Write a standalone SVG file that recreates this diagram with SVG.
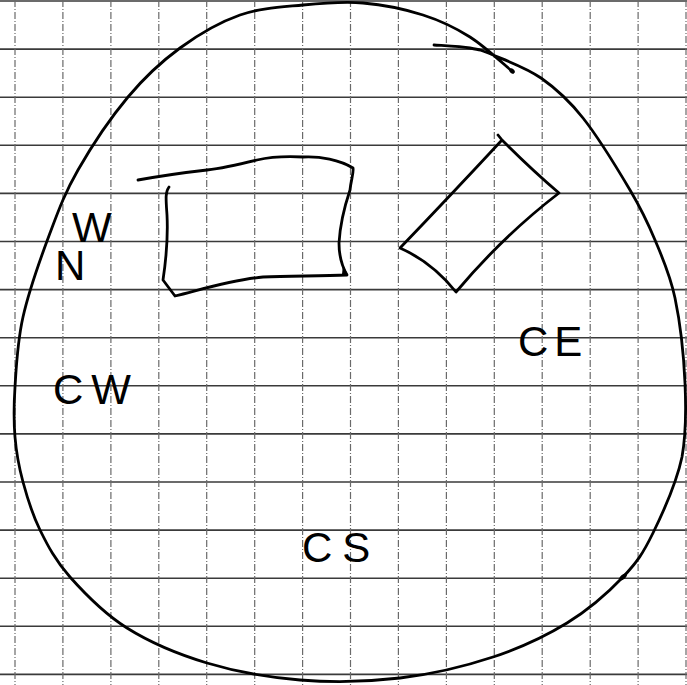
<svg xmlns="http://www.w3.org/2000/svg" width="687" height="685" viewBox="0 0 687 685">
<style>
.h{stroke:#3a3a3a;stroke-width:1.6}
.v{stroke:#6a6a6a;stroke-width:1.2;stroke-dasharray:7 2 1 2}
.pen{fill:none;stroke:#000;stroke-width:2.8;stroke-linecap:round;stroke-linejoin:round}
.lbl{font-family:"Liberation Sans","DejaVu Sans",sans-serif;font-size:42px;fill:#000}
</style>
<rect width="687" height="685" fill="#fff"/>
<g id="grid">
<g id="grid-h">
<line class="h" x1="0" y1="1" x2="687" y2="1"/>
<line class="h" x1="0" y1="49.1" x2="687" y2="49.1"/>
<line class="h" x1="0" y1="97.2" x2="687" y2="97.2"/>
<line class="h" x1="0" y1="145.3" x2="687" y2="145.3"/>
<line class="h" x1="0" y1="193.4" x2="687" y2="193.4"/>
<line class="h" x1="0" y1="241.5" x2="687" y2="241.5"/>
<line class="h" x1="0" y1="289.6" x2="687" y2="289.6"/>
<line class="h" x1="0" y1="337.7" x2="687" y2="337.7"/>
<line class="h" x1="0" y1="385.8" x2="687" y2="385.8"/>
<line class="h" x1="0" y1="433.9" x2="687" y2="433.9"/>
<line class="h" x1="0" y1="482" x2="687" y2="482"/>
<line class="h" x1="0" y1="530.1" x2="687" y2="530.1"/>
<line class="h" x1="0" y1="578.2" x2="687" y2="578.2"/>
<line class="h" x1="0" y1="626.3" x2="687" y2="626.3"/>
<line class="h" x1="0" y1="674.4" x2="687" y2="674.4"/>
</g>
<g id="grid-v">
<line class="v" x1="15" y1="0" x2="15" y2="685"/>
<line class="v" x1="62.9" y1="0" x2="62.9" y2="685"/>
<line class="v" x1="110.9" y1="0" x2="110.9" y2="685"/>
<line class="v" x1="158.8" y1="0" x2="158.8" y2="685"/>
<line class="v" x1="206.7" y1="0" x2="206.7" y2="685"/>
<line class="v" x1="254.7" y1="0" x2="254.7" y2="685"/>
<line class="v" x1="302.6" y1="0" x2="302.6" y2="685"/>
<line class="v" x1="350.5" y1="0" x2="350.5" y2="685"/>
<line class="v" x1="398.4" y1="0" x2="398.4" y2="685"/>
<line class="v" x1="446.4" y1="0" x2="446.4" y2="685"/>
<line class="v" x1="494.3" y1="0" x2="494.3" y2="685"/>
<line class="v" x1="542.2" y1="0" x2="542.2" y2="685"/>
<line class="v" x1="590.2" y1="0" x2="590.2" y2="685"/>
<line class="v" x1="638.1" y1="0" x2="638.1" y2="685"/>
<line class="v" x1="686" y1="0" x2="686" y2="685"/>
</g>
</g>
<g id="outline">
<path class="pen" d="M434,45 C440,45.5 460.2,46.3 470,48 C479.8,49.7 481.2,50 493,55 C504.8,60 526,67.5 541,78 C556,88.5 568.2,99.3 583,118 C597.8,136.7 618,169.7 630,190 C642,210.3 647.5,222 655,240 C662.5,258 670,274.2 675,298 C680,321.8 683.8,356.5 685,383 C686.2,409.5 686.5,432 682,457 C676.7,482 662.8,513 653,533 C643.2,553 637.3,562 623,577 C608.7,592 588.7,609.7 567,623 C545.3,636.3 520.8,647.8 493,657 C465.2,666.2 432.2,674.2 400,678 C367.8,681.8 332.2,682.5 300,680 C267.8,677.5 235.8,671.7 207,663 C178.2,654.3 149.8,642.3 127,628 C104.2,613.7 84.5,593.3 70,577 C55.5,560.7 47.8,545.8 40,530 C32.2,514.2 27.2,497.5 23,482 C18.8,466.5 16.3,452.8 15,437 C13.7,421.2 13.7,407 15,387 C16.3,367 17.2,342.7 23,317 C28.8,291.3 40.8,257.5 50,233 C59.2,208.5 65,192.7 78,170 C91,147.3 111,117.3 128,97 C145,76.7 161.3,61.7 180,48 C198.7,34.3 219.5,22.2 240,15 C260.5,7.8 282.5,7 303,5 C323.5,3 343,1.3 363,3 C383,4.7 405.2,9.3 423,15 C440.8,20.7 455,27.5 470,37 C485,46.5 505.8,66.2 513,72"/>
<ellipse cx="512" cy="71" rx="3" ry="2.2" transform="rotate(40 512 71)"/>
<ellipse cx="623" cy="577" rx="4.5" ry="2.4" transform="rotate(-40 623 577)"/>
</g>
<g id="block-nw">
<path class="pen" d="M169,187 C165,192 166,200 167,215 C168,235 166,260 163,280 L175,296 C200,290 230,280 263,277 C290,276 320,276 347,275 C343,268 339,258 339,243 C340,225 345,205 350,190 C351,180 354,172 353,168 C340,160 320,156 303,157 C285,156 270,157 257,160 C245,163 225,168 207,170 C180,173 155,177 138,180"/>
<path d="M343,265 L348,275 L342,274 Z" fill="#000"/>
</g>
<g id="block-ne">
<path class="pen" d="M498,135 L502,140 Q532,170 559,193 Q503,236 456,292 Q432,262 400,248 Q450,196 502,140"/>
</g>
<g id="label-nw">
<text class="lbl" x="55" y="280" font-size="40">N</text>
<text class="lbl" x="72" y="242" font-size="34">W</text>
</g>
<g id="label-cw">
<text class="lbl" x="53" y="404" letter-spacing="8">CW</text>
</g>
<g id="label-cs">
<text class="lbl" x="302" y="562" letter-spacing="10">CS</text>
</g>
<g id="label-ce">
<text class="lbl" x="518" y="356" letter-spacing="6">CE</text>
</g>
</svg>
